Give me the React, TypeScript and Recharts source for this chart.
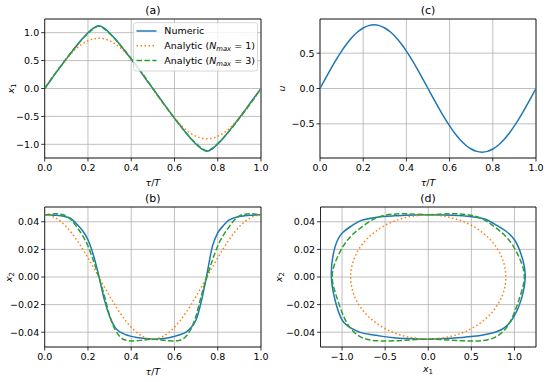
import { LineChart, Line, XAxis, YAxis, CartesianGrid, ReferenceArea } from "recharts";

// time samples tau/T
const T = [
  0, 0.025, 0.05, 0.075, 0.1, 0.125, 0.15, 0.175, 0.2, 0.225, 0.25, 0.275, 0.3, 0.325, 0.35, 0.375, 0.4,
  0.425, 0.45, 0.475, 0.5, 0.525, 0.55, 0.575, 0.6, 0.625, 0.65, 0.675, 0.7, 0.725, 0.75, 0.775, 0.8,
  0.825, 0.85, 0.875, 0.9, 0.925, 0.95, 0.975, 1,
];

// x1 curves
const X1_NUM = [
  0, 0.135, 0.27, 0.4, 0.53, 0.655, 0.78, 0.895, 1.0, 1.08, 1.125, 1.08, 0.995, 0.89, 0.775, 0.65, 0.525,
  0.395, 0.265, 0.13, 0, -0.135, -0.27, -0.4, -0.53, -0.655, -0.78, -0.895, -1.0, -1.08, -1.125, -1.08,
  -0.995, -0.89, -0.775, -0.65, -0.525, -0.395, -0.265, -0.13, 0,
];
const X1_N1 = [
  0, 0.141, 0.278, 0.409, 0.529, 0.636, 0.728, 0.802, 0.856, 0.889, 0.9, 0.889, 0.856, 0.802, 0.728, 0.636,
  0.529, 0.409, 0.278, 0.141, 0, -0.141, -0.278, -0.409, -0.529, -0.636, -0.728, -0.802, -0.856, -0.889,
  -0.9, -0.889, -0.856, -0.802, -0.728, -0.636, -0.529, -0.409, -0.278, -0.141, 0,
];
const X1_N3 = [
  0, 0.14, 0.275, 0.405, 0.535, 0.66, 0.78, 0.89, 0.985, 1.07, 1.115, 1.07, 0.985, 0.89, 0.78, 0.66, 0.535,
  0.405, 0.275, 0.14, 0, -0.14, -0.275, -0.405, -0.535, -0.66, -0.78, -0.89, -0.985, -1.07, -1.115, -1.07,
  -0.985, -0.89, -0.78, -0.66, -0.535, -0.405, -0.275, -0.14, 0,
];

// x2 curves
const X2_NUM = [
  0.045, 0.0449, 0.0447, 0.0443, 0.0435, 0.042, 0.038, 0.0335, 0.027, 0.016, 0.001, -0.016, -0.0285,
  -0.0365, -0.04, -0.0418, -0.043, -0.0438, -0.0443, -0.0447, -0.045, -0.0448, -0.0445, -0.044, -0.043,
  -0.0418, -0.0403, -0.037, -0.031, -0.017, 0.002, 0.022, 0.032, 0.037, 0.041, 0.0428, 0.0438, 0.0443,
  0.0447, 0.0449, 0.045,
];
const X2_N1 = [
  0.045, 0.0444, 0.0428, 0.0401, 0.0364, 0.0318, 0.0265, 0.0204, 0.0139, 0.007, 0, -0.007, -0.0139,
  -0.0204, -0.0265, -0.0318, -0.0364, -0.0401, -0.0428, -0.0444, -0.045, -0.0444, -0.0428, -0.0401,
  -0.0364, -0.0318, -0.0265, -0.0204, -0.0139, -0.007, 0, 0.007, 0.0139, 0.0204, 0.0265, 0.0318, 0.0364,
  0.0401, 0.0428, 0.0444, 0.045,
];
const X2_N3 = [
  0.045, 0.0455, 0.0458, 0.0455, 0.0442, 0.041, 0.0358, 0.03, 0.0225, 0.012, 0, -0.013, -0.028, -0.038,
  -0.0435, -0.0458, -0.0463, -0.0462, -0.0458, -0.0453, -0.045, -0.0453, -0.0458, -0.0462, -0.0463,
  -0.0458, -0.0435, -0.038, -0.028, -0.013, 0, 0.012, 0.0225, 0.03, 0.0358, 0.041, 0.0442, 0.0455, 0.0458,
  0.0455, 0.045,
];

// control input
const U = [
  0, 0.141, 0.278, 0.409, 0.529, 0.636, 0.728, 0.802, 0.856, 0.889, 0.9, 0.889, 0.856, 0.802, 0.728, 0.636,
  0.529, 0.409, 0.278, 0.141, 0, -0.141, -0.278, -0.409, -0.529, -0.636, -0.728, -0.802, -0.856, -0.889,
  -0.9, -0.889, -0.856, -0.802, -0.728, -0.636, -0.529, -0.409, -0.278, -0.141, 0,
];

const T_TICKS = [0, 0.2, 0.4, 0.6, 0.8, 1];
const X1_TICKS = [-1, -0.5, 0, 0.5, 1];
const U_TICKS = [-0.5, 0, 0.5];
const X2_TICKS = [-0.04, -0.02, 0, 0.02, 0.04];

const timeData = T.map((t, i) => ({
  t,
  x1num: X1_NUM[i],
  x1n1: X1_N1[i],
  x1n3: X1_N3[i],
  x2num: X2_NUM[i],
  x2n1: X2_N1[i],
  x2n3: X2_N3[i],
  u: U[i],
}));
const phaseNum = T.map((_, i) => ({ x1: X1_NUM[i], x2: X2_NUM[i] }));
const phaseN1 = T.map((_, i) => ({ x1: X1_N1[i], x2: X2_N1[i] }));
const phaseN3 = T.map((_, i) => ({ x1: X1_N3[i], x2: X2_N3[i] }));

const BLUE = "#1f77b4";
const ORANGE = "#ff7f0e";
const GREEN = "#2ca02c";
const FONT = "DejaVu Sans";

const fmt1 = (v: number) => v.toFixed(1).replace("-", "\u2212");
const fmt2 = (v: number) => v.toFixed(2).replace("-", "\u2212");

const tickStyle = { fontSize: 9.5, fill: "#000", fontFamily: FONT };
const tickLine = { stroke: "#000", strokeWidth: 0.8 };

const xAxisProps = (key: string, domain: number[], ticks: number[], fmt: (v: number) => string) => ({
  type: "number" as const,
  dataKey: key,
  domain,
  ticks,
  tickFormatter: fmt,
  interval: 0 as const,
  axisLine: false,
  tickLine,
  tickSize: 3.5,
  tickMargin: 3,
  tick: tickStyle,
  height: 25,
  allowDataOverflow: true,
});

const yAxisProps = (domain: number[], ticks: number[], fmt: (v: number) => string) => ({
  type: "number" as const,
  domain,
  ticks,
  tickFormatter: fmt,
  interval: 0 as const,
  axisLine: false,
  tickLine,
  tickSize: 3.5,
  tickMargin: 2,
  tick: tickStyle,
  width: 40,
  allowDataOverflow: true,
});

const Frame = ({ xd, yd }: { xd: number[]; yd: number[] }) => (
  <ReferenceArea
    x1={xd[0]}
    x2={xd[1]}
    y1={yd[0]}
    y2={yd[1]}
    fill="none"
    stroke="#000"
    strokeWidth={0.8}
    ifOverflow="visible"
  />
);

const lineCommon = { dot: false, activeDot: false, isAnimationActive: false, strokeWidth: 1.5 };

const TD = [0, 1];
const X1D = [-1.245, 1.245];
const UD = [-0.983, 0.983];
const X2D = [-0.0507, 0.0507];
const PXD = [-1.25, 1.25];

export default function App() {
  return (
    <div
      style={{
        position: "absolute",
        left: 0,
        top: 0,
        width: 550,
        height: 382,
        background: "#fff",
        fontFamily: FONT,
      }}
    >
      {/* (a) */}
      <div style={{ position: "absolute", left: 0, top: 0 }}>
        <LineChart width={275} height={190} data={timeData} margin={{ top: 19, right: 14, bottom: 7, left: 4.7 }}>
          <CartesianGrid stroke="#b0b0b0" strokeWidth={0.8} />
          <XAxis {...xAxisProps("t", TD, T_TICKS, fmt1)} />
          <YAxis {...yAxisProps(X1D, X1_TICKS, fmt1)} />
          <Line {...lineCommon} type="monotone" dataKey="x1num" stroke={BLUE} />
          <Line {...lineCommon} type="monotone" dataKey="x1n1" stroke={ORANGE} strokeDasharray="1.5 2.5" />
          <Line {...lineCommon} type="monotone" dataKey="x1n3" stroke={GREEN} strokeDasharray="5.5 2.4" />
          <Frame xd={TD} yd={X1D} />
        </LineChart>
      </div>

      {/* (c) */}
      <div style={{ position: "absolute", left: 275, top: 0 }}>
        <LineChart width={275} height={190} data={timeData} margin={{ top: 19, right: 14, bottom: 7, left: 5 }}>
          <CartesianGrid stroke="#b0b0b0" strokeWidth={0.8} />
          <XAxis {...xAxisProps("t", TD, T_TICKS, fmt1)} />
          <YAxis {...yAxisProps(UD, U_TICKS, fmt1)} />
          <Line {...lineCommon} type="monotone" dataKey="u" stroke={BLUE} />
          <Frame xd={TD} yd={UD} />
        </LineChart>
      </div>

      {/* (b) */}
      <div style={{ position: "absolute", left: 0, top: 190 }}>
        <LineChart width={275} height={192} data={timeData} margin={{ top: 17, right: 14, bottom: 10, left: 4.7 }}>
          <CartesianGrid stroke="#b0b0b0" strokeWidth={0.8} />
          <XAxis {...xAxisProps("t", TD, T_TICKS, fmt1)} />
          <YAxis {...yAxisProps(X2D, X2_TICKS, fmt2)} />
          <Line {...lineCommon} type="monotone" dataKey="x2num" stroke={BLUE} />
          <Line {...lineCommon} type="monotone" dataKey="x2n1" stroke={ORANGE} strokeDasharray="1.5 2.5" />
          <Line {...lineCommon} type="monotone" dataKey="x2n3" stroke={GREEN} strokeDasharray="5.5 2.4" />
          <Frame xd={TD} yd={X2D} />
        </LineChart>
      </div>

      {/* (d) */}
      <div style={{ position: "absolute", left: 275, top: 190 }}>
        <LineChart width={275} height={192} margin={{ top: 17, right: 14, bottom: 10, left: 5.5 }}>
          <CartesianGrid stroke="#b0b0b0" strokeWidth={0.8} />
          <XAxis {...xAxisProps("x1", PXD, X1_TICKS, fmt1)} />
          <YAxis {...yAxisProps(X2D, X2_TICKS, fmt2)} />
          <Line {...lineCommon} type="natural" data={phaseNum} dataKey="x2" stroke={BLUE} />
          <Line {...lineCommon} type="natural" data={phaseN1} dataKey="x2" stroke={ORANGE} strokeDasharray="1.5 2.5" />
          <Line {...lineCommon} type="natural" data={phaseN3} dataKey="x2" stroke={GREEN} strokeDasharray="5.5 2.4" />
          <Frame xd={PXD} yd={X2D} />
        </LineChart>
      </div>

      {/* titles, labels, legend */}
      <svg
        width={550}
        height={382}
        style={{ position: "absolute", left: 0, top: 0, pointerEvents: "none" }}
        fontFamily={FONT}
      >
        <g fontSize={11} textAnchor="middle" fill="#000">
          <text x={152.8} y={13.5}>(a)</text>
          <text x={428} y={13.5}>(c)</text>
          <text x={152.8} y={201.5}>(b)</text>
          <text x={428} y={201.5}>(d)</text>
        </g>
        <g fontSize={9.5} textAnchor="middle" fill="#000">
          <text x={152.8} y={185.5}><tspan fontStyle="italic">τ</tspan>/<tspan fontStyle="italic">T</tspan></text>
          <text x={428} y={185.5}><tspan fontStyle="italic">τ</tspan>/<tspan fontStyle="italic">T</tspan></text>
          <text x={152.8} y={374.5}><tspan fontStyle="italic">τ</tspan>/<tspan fontStyle="italic">T</tspan></text>
          <text x={428} y={371.5}>
            <tspan fontStyle="italic">x</tspan>
            <tspan fontSize={7} dy={2}>1</tspan>
          </text>
          <text x={14} y={88.5} transform="rotate(-90 14 88.5)">
            <tspan fontStyle="italic">x</tspan>
            <tspan fontSize={7} dy={2}>1</tspan>
          </text>
          <text x={284.5} y={88.5} transform="rotate(-90 284.5 88.5)" fontStyle="italic">u</text>
          <text x={12} y={277} transform="rotate(-90 12 277)">
            <tspan fontStyle="italic">x</tspan>
            <tspan fontSize={7} dy={2}>2</tspan>
          </text>
          <text x={282} y={277} transform="rotate(-90 282 277)">
            <tspan fontStyle="italic">x</tspan>
            <tspan fontSize={7} dy={2}>2</tspan>
          </text>
        </g>

        {/* legend of (a) */}
        <rect x={133.5} y={22.7} width={124} height={48.3} rx={2.5} fill="#fff" fillOpacity={0.8} stroke="#cccccc" strokeWidth={0.8} />
        <line x1={136.5} x2={156.5} y1={31} y2={31} stroke={BLUE} strokeWidth={1.5} />
        <line x1={136.5} x2={156.5} y1={45.7} y2={45.7} stroke={ORANGE} strokeWidth={1.5} strokeDasharray="1.5 2.5" />
        <line x1={136.5} x2={156.5} y1={60.5} y2={60.5} stroke={GREEN} strokeWidth={1.5} strokeDasharray="5.5 2.4" />
        <g fontSize={9.5} fill="#000">
          <text x={164.3} y={34.4}>Numeric</text>
          <text x={164.3} y={49.1}>
            Analytic (<tspan fontStyle="italic">N</tspan>
            <tspan fontSize={6.8} fontStyle="italic" dy={1.8}>max</tspan>
            <tspan dy={-1.8}> = 1)</tspan>
          </text>
          <text x={164.3} y={63.9}>
            Analytic (<tspan fontStyle="italic">N</tspan>
            <tspan fontSize={6.8} fontStyle="italic" dy={1.8}>max</tspan>
            <tspan dy={-1.8}> = 3)</tspan>
          </text>
        </g>
      </svg>
    </div>
  );
}
